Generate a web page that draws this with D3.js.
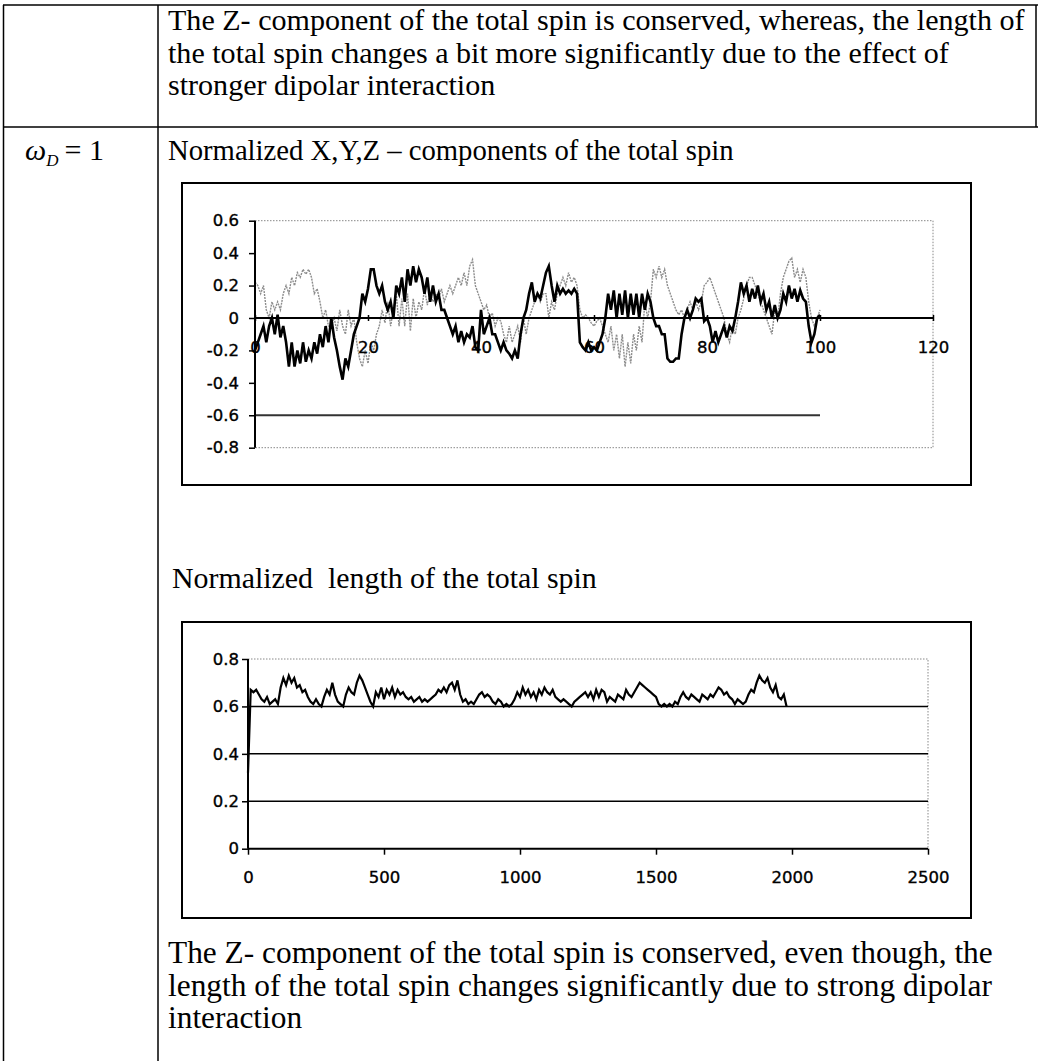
<!DOCTYPE html>
<html>
<head>
<meta charset="utf-8">
<script src="https://cdn.jsdelivr.net/npm/d3@7"></script>
<style>
  html, body { margin: 0; padding: 0; background: #fff; }
  svg { display: block; }
  text { white-space: pre; }
</style>
</head>
<body>
<svg id="page" width="1038" height="1061"></svg>
<script>
// ---------------- DATA ----------------
const topText = [
  "The Z- component of the total spin is conserved, whereas, the length of",
  "the total spin changes a bit more significantly due to the effect of",
  "stronger dipolar interaction"
];
const rowLabel = "ω";
const chart1Title = "Normalized X,Y,Z – components of the total spin";
const chart2Title = "Normalized  length of the total spin";
const bottomText = [
  "The Z- component of the total spin is conserved, even though, the",
  "length of the total spin changes significantly due to strong dipolar",
  "interaction"
];

// Chart 1: time step 0.5, t = 0 .. 100
const spinStep = 0.5;
const spinX = [
  -0.2,-0.15,-0.1,-0.05,-0.15,-0.05,0.0,-0.1,0.02,-0.12,-0.05,-0.15,-0.3,-0.15,-0.3,-0.2,-0.28,-0.15,-0.27,-0.2,
  -0.25,-0.15,-0.22,-0.1,-0.18,-0.05,-0.15,0.0,-0.12,-0.2,-0.3,-0.38,-0.25,-0.3,-0.2,-0.1,-0.05,0.0,0.15,0.1,
  0.18,0.3,0.3,0.2,0.15,0.2,0.1,0.05,0.1,0.0,0.2,0.15,0.25,0.1,0.3,0.2,0.32,0.22,0.3,0.25,
  0.15,0.25,0.1,0.2,0.1,0.15,0.05,0.05,0.0,-0.05,-0.1,-0.05,-0.15,-0.08,-0.15,-0.1,-0.12,-0.05,-0.18,-0.2,
  0.05,-0.1,-0.05,0.0,-0.1,-0.1,-0.15,-0.2,-0.15,-0.2,-0.22,-0.25,-0.2,-0.25,-0.1,0.0,0.05,0.15,0.22,0.1,
  0.15,0.12,0.2,0.28,0.32,0.2,0.1,0.2,0.15,0.18,0.15,0.17,0.15,0.18,0.15,-0.15,-0.18,-0.2,-0.15,-0.2,
  -0.18,-0.2,-0.15,-0.1,0.0,0.15,0.05,0.17,0.0,0.15,0.02,0.17,0.0,0.15,0.02,0.15,0.0,0.15,0.05,0.15,
  0.1,0.0,-0.05,-0.05,-0.1,-0.1,-0.25,-0.27,-0.27,-0.25,-0.25,-0.1,0.0,0.05,0.0,0.05,0.12,0.1,0.12,-0.02,
  0.0,-0.05,-0.15,-0.08,-0.15,-0.1,-0.05,-0.12,-0.05,-0.08,0.0,0.1,0.22,0.15,0.2,0.1,0.18,0.12,0.2,0.1,
  0.15,0.05,0.1,0.0,0.08,0.0,0.05,0.15,0.1,0.2,0.12,0.18,0.1,0.17,0.12,0.1,-0.05,-0.15,-0.1,0.0,
  0.02
];
const spinY = [
  0.22,0.2,0.15,0.2,0.05,0.0,0.1,0.05,0.1,0.05,0.15,0.2,0.15,0.25,0.2,0.28,0.25,0.3,0.27,0.3,
  0.25,0.15,0.18,0.1,0.0,0.05,-0.05,-0.05,0.0,-0.08,0.05,-0.05,-0.1,0.05,-0.05,0.0,-0.15,-0.25,-0.3,-0.2,
  -0.28,-0.15,-0.2,-0.1,-0.05,0.05,-0.03,0.1,-0.05,0.05,0.15,-0.05,0.12,-0.05,0.15,-0.08,0.12,0.0,0.1,0.05,
  0.18,0.08,0.15,0.1,0.15,0.12,0.18,0.1,0.15,0.2,0.15,0.2,0.25,0.2,0.28,0.2,0.32,0.36,0.2,0.15,
  0.1,0.05,0.08,0.0,0.03,-0.05,0.0,-0.02,-0.1,-0.15,-0.05,-0.15,-0.1,-0.05,-0.15,0.0,-0.1,0.0,0.05,0.1,
  0.15,0.1,0.15,0.15,0.0,0.1,0.05,0.15,0.2,0.25,0.2,0.28,0.22,0.25,0.2,0.05,0.0,0.02,0.0,-0.03,
  -0.05,-0.02,0.0,-0.05,-0.1,-0.15,-0.05,-0.2,-0.1,-0.25,-0.1,-0.3,-0.15,-0.28,-0.1,-0.2,-0.05,-0.15,0.1,0.0,
  0.1,0.3,0.25,0.32,0.25,0.3,0.2,0.15,0.1,0.05,0.02,0.05,0.0,0.05,0.1,0.05,0.1,0.05,0.1,0.2,
  0.22,0.25,0.2,0.15,0.1,0.05,0.0,-0.1,-0.15,-0.05,-0.1,0.0,0.05,0.12,0.2,0.25,0.25,0.2,0.15,0.1,
  0.05,0.0,-0.05,-0.1,0.05,0.0,0.15,0.25,0.3,0.35,0.37,0.25,0.3,0.22,0.3,0.25,0.1,0.0,-0.05,0.0,
  0.05
];
const spinZTimes = [0, 100];
const spinZ = [-0.6, -0.6];
const chart1XTicks = [0, 20, 40, 60, 80, 100, 120];
const chart1YTicks = [-0.8, -0.6, -0.4, -0.2, 0, 0.2, 0.4, 0.6];

// Chart 2: time step 10, t = 0 .. 1980
const lengthStep = 10;
const spinLength = [
  0.32,0.67,0.66,0.67,0.65,0.63,0.62,0.64,0.61,0.62,0.63,0.61,0.68,0.72,0.69,0.73,0.7,0.72,0.68,0.69,
  0.66,0.67,0.64,0.62,0.61,0.63,0.61,0.6,0.64,0.67,0.65,0.7,0.65,0.62,0.61,0.6,0.65,0.68,0.66,0.65,
  0.7,0.73,0.71,0.68,0.65,0.62,0.6,0.66,0.64,0.68,0.63,0.67,0.65,0.68,0.64,0.67,0.65,0.66,0.64,0.63,
  0.64,0.62,0.63,0.64,0.62,0.63,0.62,0.63,0.64,0.65,0.67,0.66,0.68,0.66,0.69,0.7,0.67,0.71,0.65,0.62,
  0.63,0.61,0.62,0.61,0.63,0.65,0.66,0.64,0.65,0.64,0.62,0.61,0.63,0.62,0.6,0.61,0.6,0.61,0.63,0.66,
  0.64,0.68,0.65,0.67,0.64,0.66,0.63,0.67,0.65,0.68,0.66,0.65,0.67,0.64,0.63,0.62,0.63,0.62,0.61,0.6,
  0.62,0.63,0.64,0.65,0.66,0.64,0.66,0.63,0.67,0.64,0.67,0.66,0.62,0.64,0.63,0.62,0.65,0.64,0.63,0.67,
  0.65,0.64,0.66,0.68,0.7,0.69,0.68,0.67,0.66,0.65,0.64,0.61,0.6,0.61,0.6,0.61,0.6,0.62,0.61,0.64,
  0.66,0.64,0.63,0.65,0.64,0.63,0.62,0.65,0.64,0.63,0.65,0.64,0.66,0.68,0.67,0.65,0.66,0.64,0.63,0.61,
  0.63,0.62,0.61,0.62,0.65,0.67,0.66,0.7,0.73,0.71,0.7,0.72,0.68,0.66,0.69,0.64,0.63,0.65,0.6
];
const chart2XTicks = [0, 500, 1000, 1500, 2000, 2500];
const chart2YTicks = [0, 0.2, 0.4, 0.6, 0.8];
const chart2Grid = [0.2, 0.4, 0.6];

// ---------------- DRAWING ----------------
const svg = d3.select("#page");
const serif = "'Liberation Serif','Times New Roman',serif";
const sans = "'DejaVu Sans',Arial,sans-serif";
const fmt = d => d === 0 ? "0" : String(d);

// table lines
const tbl = svg.append("g").attr("stroke", "#000").attr("stroke-width", 1.5);
tbl.append("line").attr("x1", 3).attr("x2", 1038).attr("y1", 5).attr("y2", 5);
tbl.append("line").attr("x1", 3).attr("x2", 1038).attr("y1", 127).attr("y2", 127);
tbl.append("line").attr("x1", 3.5).attr("x2", 3.5).attr("y1", 5).attr("y2", 1061);
tbl.append("line").attr("x1", 158).attr("x2", 158).attr("y1", 5).attr("y2", 1061);
tbl.append("line").attr("x1", 1036).attr("x2", 1036).attr("y1", 5).attr("y2", 127);

// text block; font size chosen so that its first line spans the width seen in the scan
function textBlock(lines, firstWidth, x, y0, dy) {
  const base = 29;
  const g = svg.append("g");
  const t = g.selectAll("text").data(lines).join("text")
    .attr("x", x).attr("y", (d, i) => y0 + i * dy)
    .attr("font-family", serif).attr("font-size", base).attr("fill", "#000")
    .text(d => d);
  const natural = t.node().getComputedTextLength();
  t.attr("font-size", base * firstWidth / natural);
}
textBlock(topText, 857, 168, 30, 32.5);
textBlock([chart1Title], 566, 168, 160, 0);
textBlock([chart2Title], 425, 172, 588, 0);
textBlock(bottomText, 825, 168, 963, 32.5);

// omega_D = 1
const om = svg.append("text").attr("x", 25).attr("y", 160)
  .attr("font-family", serif).attr("font-size", 30);
om.append("tspan").attr("font-style", "italic").text(rowLabel);
om.append("tspan").attr("font-style", "italic").attr("font-size", 17).attr("dy", 6).text("D");
om.append("tspan").attr("dy", -6).attr("dx", 6).text("= 1");

// ---------- Chart 1 ----------
svg.append("rect").attr("x", 182).attr("y", 183).attr("width", 789).attr("height", 302)
  .attr("fill", "none").attr("stroke", "#000").attr("stroke-width", 2);

const x1 = d3.scaleLinear().domain([0, 120]).range([255, 933]);
const y1 = d3.scaleLinear().domain([-0.8, 0.6]).range([447.7, 220.7]);

svg.append("path").attr("d", `M${x1(0)},${y1(0.6)}H${x1(120)}V${y1(-0.8)}H${x1(0)}`)
  .attr("fill", "none").attr("stroke", "#888").attr("stroke-width", 1).attr("stroke-dasharray", "1.5,1.5");

const line1 = d3.line().x((d, i) => x1(i * spinStep)).y(d => y1(d));

svg.append("path").datum(spinY).attr("d", line1)
  .attr("fill", "none").attr("stroke", "#8c8c8c").attr("stroke-width", 1.4).attr("stroke-dasharray", "2,1");

svg.append("path").datum(spinZ)
  .attr("d", d3.line().x((d, i) => x1(spinZTimes[i])).y(d => y1(d)))
  .attr("fill", "none").attr("stroke", "#333").attr("stroke-width", 2);

const ax1y = svg.append("g").attr("transform", `translate(${x1(0)},0)`)
  .call(d3.axisLeft(y1).tickValues(chart1YTicks).tickSize(6).tickPadding(10).tickFormat(fmt));
const ax1x = svg.append("g").attr("transform", `translate(0,${y1(0)})`)
  .call(d3.axisBottom(x1).tickValues(chart1XTicks).tickSize(3).tickPadding(20).tickFormat(fmt));
ax1x.selectAll(".tick line").attr("y1", -3);

svg.append("path").datum(spinX).attr("d", line1)
  .attr("fill", "none").attr("stroke", "#000").attr("stroke-width", 2.6).attr("stroke-linejoin", "miter");

// ---------- Chart 2 ----------
svg.append("rect").attr("x", 182).attr("y", 622).attr("width", 789).attr("height", 296)
  .attr("fill", "none").attr("stroke", "#000").attr("stroke-width", 2);

const x2 = d3.scaleLinear().domain([0, 2500]).range([248, 928]);
const y2 = d3.scaleLinear().domain([0, 0.8]).range([848.7, 659]);

svg.append("path").attr("d", `M${x2(0)},${y2(0.8)}H${x2(2500)}V${y2(0)}`)
  .attr("fill", "none").attr("stroke", "#888").attr("stroke-width", 1).attr("stroke-dasharray", "1.5,1.5");

svg.append("g").selectAll("line").data(chart2Grid).join("line")
  .attr("x1", x2(0)).attr("x2", x2(2500)).attr("y1", d => y2(d)).attr("y2", d => y2(d))
  .attr("stroke", "#000").attr("stroke-width", 1.5);

const ax2y = svg.append("g").attr("transform", `translate(${x2(0)},0)`)
  .call(d3.axisLeft(y2).tickValues(chart2YTicks).tickSize(6).tickPadding(3).tickFormat(fmt));
const ax2x = svg.append("g").attr("transform", `translate(0,${y2(0)})`)
  .call(d3.axisBottom(x2).tickValues(chart2XTicks).tickSize(6).tickPadding(17).tickFormat(fmt));

svg.append("path").datum(spinLength)
  .attr("d", d3.line().x((d, i) => x2(i * lengthStep)).y(d => y2(d)))
  .attr("fill", "none").attr("stroke", "#000").attr("stroke-width", 2.2);

// axis styling
[ax1y, ax1x, ax2y, ax2x].forEach(g => {
  g.select(".domain").attr("stroke", "#000").attr("stroke-width", 2);
  g.selectAll(".tick line").attr("stroke", "#000").attr("stroke-width", 1.5);
  g.selectAll(".tick text").attr("font-family", sans).attr("font-size", 16.5)
    .attr("fill", "#000").attr("stroke", "#000").attr("stroke-width", 0.35);
});
ax1x.select(".domain").attr("d", `M${x1(0)},0H${x1(120)}`);
ax2x.select(".domain").attr("d", `M${x2(0)},0H${x2(2500)}`);
ax1y.select(".domain").attr("d", `M0,${y1(0.6)}V${y1(-0.8)}`);
ax2y.select(".domain").attr("d", `M0,${y2(0.8)}V${y2(0)}`);
</script>
</body>
</html>
